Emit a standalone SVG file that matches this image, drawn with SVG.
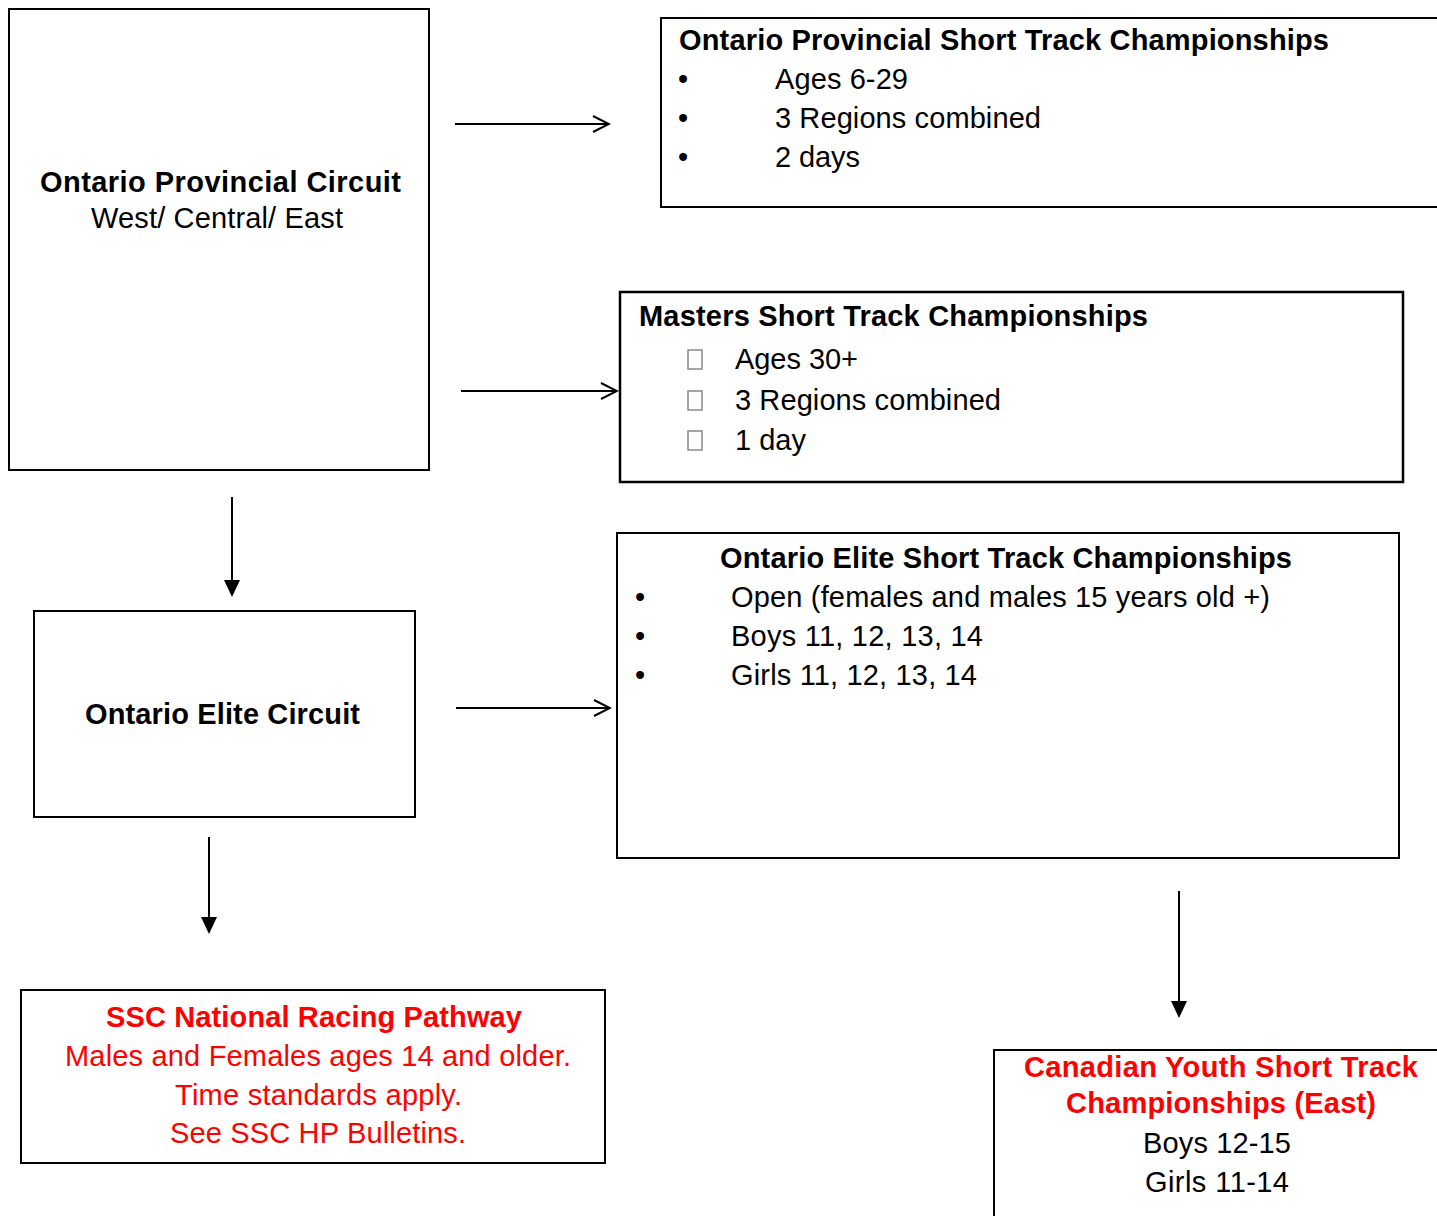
<svg xmlns="http://www.w3.org/2000/svg" width="1437" height="1216" viewBox="0 0 1437 1216">
<defs>
<marker id="open" markerWidth="20" markerHeight="20" refX="18" refY="10" orient="auto" markerUnits="userSpaceOnUse">
<path d="M2,2 L18,10 L2,18" fill="none" stroke="#000" stroke-width="2"/>
</marker>
<style>
.box{fill:#fff;stroke:#000;stroke-width:2}
.t{font-family:"Liberation Sans",Arial,sans-serif;font-size:29px;fill:#000}
.b{font-weight:bold}
.red{fill:#ff0000}
.c{text-anchor:middle}
.line{stroke:#000;stroke-width:2;fill:none}
.tofu{fill:none;stroke:#888;stroke-width:1.5}
</style>
</defs>
<rect width="1437" height="1216" fill="#fff"/>
<g id="connectors">
<line class="line" x1="455" y1="124" x2="609" y2="124" marker-end="url(#open)"/>
<line class="line" x1="461" y1="391" x2="617" y2="391" marker-end="url(#open)"/>
<line class="line" x1="456" y1="708" x2="610" y2="708" marker-end="url(#open)"/>
<line class="line" x1="232" y1="497" x2="232" y2="580"/>
<path d="M224,580 L240,580 L232,597 Z" fill="#000"/>
<line class="line" x1="209" y1="837" x2="209" y2="917"/>
<path d="M201,917 L217,917 L209,934 Z" fill="#000"/>
<line class="line" x1="1179" y1="891" x2="1179" y2="1001"/>
<path d="M1171,1001 L1187,1001 L1179,1018 Z" fill="#000"/>
</g>
<g id="node-provincial-circuit">
<rect class="box" x="9" y="9" width="420" height="461"/>
<text class="t b" x="40" y="192" textLength="361" lengthAdjust="spacing">Ontario Provincial Circuit</text>
<text class="t" x="91" y="228" textLength="252" lengthAdjust="spacing">West/ Central/ East</text>
</g>
<g id="node-provincial-championships">
<rect class="box" x="661" y="18" width="790" height="189"/>
<text class="t b" x="679" y="50" textLength="650" lengthAdjust="spacing">Ontario Provincial Short Track Championships</text>
<text class="t" x="678" y="89">•</text>
<text class="t" x="775" y="89" textLength="133" lengthAdjust="spacing">Ages 6-29</text>
<text class="t" x="678" y="128">•</text>
<text class="t" x="775" y="128" textLength="266" lengthAdjust="spacing">3 Regions combined</text>
<text class="t" x="678" y="167">•</text>
<text class="t" x="775" y="167" textLength="85" lengthAdjust="spacing">2 days</text>
</g>
<g id="node-masters">
<rect class="box" x="620" y="292" width="783" height="190" style="stroke-width:2.5"/>
<text class="t b" x="639" y="326" textLength="509" lengthAdjust="spacing">Masters Short Track Championships</text>
<rect class="tofu" x="688" y="350" width="14" height="19"/>
<text class="t" x="735" y="369" textLength="123" lengthAdjust="spacing">Ages 30+</text>
<rect class="tofu" x="688" y="391" width="14" height="19"/>
<text class="t" x="735" y="410" textLength="266" lengthAdjust="spacing">3 Regions combined</text>
<rect class="tofu" x="688" y="431" width="14" height="19"/>
<text class="t" x="735" y="450" textLength="71" lengthAdjust="spacing">1 day</text>
</g>
<g id="node-elite-circuit">
<rect class="box" x="34" y="611" width="381" height="206"/>
<text class="t b" x="85" y="724" textLength="275" lengthAdjust="spacing">Ontario Elite Circuit</text>
</g>
<g id="node-elite-championships">
<rect class="box" x="617" y="533" width="782" height="325"/>
<text class="t b" x="720" y="568" textLength="572" lengthAdjust="spacing">Ontario Elite Short Track Championships</text>
<text class="t" x="635" y="607">•</text>
<text class="t" x="731" y="607" textLength="539" lengthAdjust="spacing">Open (females and males 15 years old +)</text>
<text class="t" x="635" y="646">•</text>
<text class="t" x="731" y="646" textLength="252" lengthAdjust="spacing">Boys 11, 12, 13, 14</text>
<text class="t" x="635" y="685">•</text>
<text class="t" x="731" y="685" textLength="246" lengthAdjust="spacing">Girls 11, 12, 13, 14</text>
</g>
<g id="node-ssc">
<rect class="box" x="21" y="990" width="584" height="173"/>
<text class="t b red" x="106" y="1027" textLength="416" lengthAdjust="spacing">SSC National Racing Pathway</text>
<text class="t red" x="65" y="1066" textLength="506" lengthAdjust="spacing">Males and Females ages 14 and older.</text>
<text class="t red" x="175" y="1105" textLength="287" lengthAdjust="spacing">Time standards apply.</text>
<text class="t red" x="170" y="1143" textLength="296" lengthAdjust="spacing">See SSC HP Bulletins.</text>
</g>
<g id="node-canadian-youth">
<rect class="box" x="994" y="1050" width="460" height="180"/>
<text class="t b red" x="1024" y="1077" textLength="394" lengthAdjust="spacing">Canadian Youth Short Track</text>
<text class="t b red" x="1066" y="1113" textLength="310" lengthAdjust="spacing">Championships (East)</text>
<text class="t" x="1143" y="1153" textLength="148" lengthAdjust="spacing">Boys 12-15</text>
<text class="t" x="1145" y="1192" textLength="144" lengthAdjust="spacing">Girls 11-14</text>
</g>
</svg>
